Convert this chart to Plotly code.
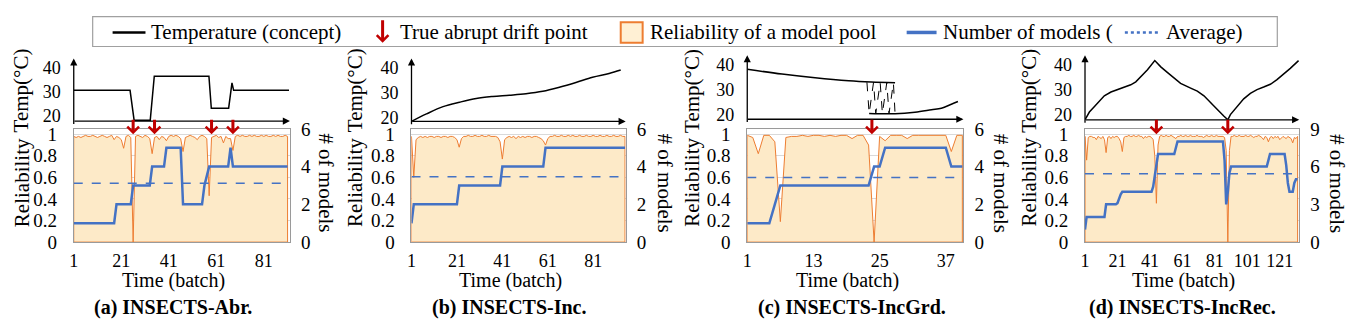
import plotly.graph_objects as go

W, H = 1357, 328

# ---------------- data ----------------
captions = ["(a) INSECTS-Abr.", "(b) INSECTS-Inc.", "(c) INSECTS-IncGrd.", "(d) INSECTS-IncRec."]

# (a) abrupt
temp_a_x = [1, 24.7, 26.4, 33.2, 34.9, 57.9, 58.9, 66.2, 67.6, 68.3, 91.6]
temp_a_y = [30.5, 30.5, 18, 18, 36.4, 36.4, 23, 23, 33.6, 30.5, 30.5]
drift_a = [26, 35, 59, 68]
rel_a = [0.98, 0.97, 0.98, 0.97, 0.98, 0.99, 0.98, 0.98, 0.99, 0.98,
         0.97, 0.98, 0.99, 0.98, 0.97, 0.98, 0.99, 0.95, 0.98, 0.97,
         0.95, 0.87, 0.98, 0.99, 0.97, 0.0, 0.98, 0.99, 0.98, 0.97,
         0.99, 0.98, 0.96, 0.82, 0.97, 0.98, 0.95, 0.98, 0.97, 0.94,
         0.98, 0.99, 0.98, 0.99, 0.98, 0.96, 0.84, 0.97, 0.98, 0.99,
         0.98, 0.97, 0.95, 0.98, 0.99, 0.98, 0.96, 0.43, 0.97, 0.98,
         0.99, 0.97, 0.98, 0.92, 0.98, 0.96, 0.96, 0.85, 0.98, 0.99,
         0.98, 0.99, 0.98, 0.98, 0.99, 0.98, 0.99, 0.98, 0.98, 0.99,
         0.98, 0.99, 0.98, 0.98, 0.99, 0.98, 0.99, 0.98, 0.98, 0.99,
         0.98]
models_a = [1, 1, 1, 1, 1, 1, 1, 1, 1, 1,
            1, 1, 1, 1, 1, 1, 1, 1, 2, 2,
            2, 2, 2, 2, 2, 3, 3, 3, 3, 3,
            3, 3, 3, 4, 4, 4, 4, 4, 4, 5,
            5, 5, 5, 5, 5, 5, 2, 2, 2, 2,
            2, 2, 2, 2, 2, 3, 3.5, 4, 4, 4,
            4, 4, 4, 4, 4, 4, 5, 4, 4, 4,
            4, 4, 4, 4, 4, 4, 4, 4, 4, 4,
            4, 4, 4, 4, 4, 4, 4, 4, 4, 4,
            4]

# (b) incremental
temp_b_x = [1, 7.6, 14.9, 22.2, 29.5, 36.8, 44.1, 51.4, 58.8, 66.1, 73.4, 80.7, 88.0, 93.1]
temp_b_y = [18.5, 21.5, 24.4, 26.2, 27.7, 28.5, 29.0, 29.6, 30.6, 32.2, 34.1, 36.2, 37.7, 39.1]
drift_b = []
rel_b = [0.98, 0.6, 0.95, 0.97, 0.98, 0.97, 0.98, 0.97, 0.98, 0.98,
         0.97, 0.98, 0.98, 0.97, 0.98, 0.98, 0.97, 0.98, 0.98, 0.97,
         0.95, 0.88, 0.96, 0.98, 0.98, 0.99, 0.98, 0.98, 0.99, 0.98,
         0.98, 0.99, 0.98, 0.98, 0.99, 0.98, 0.98, 0.98, 0.97, 0.93,
         0.77, 0.95, 0.97, 0.98, 0.97, 0.98, 0.96, 0.98, 0.97, 0.98,
         0.97, 0.98, 0.98, 0.97, 0.98, 0.98, 0.97, 0.96, 0.94, 0.9,
         0.96, 0.98, 0.98, 0.99, 0.98, 0.98, 0.99, 0.98, 0.98, 0.99,
         0.98, 0.99, 0.98, 0.98, 0.99, 0.98, 0.98, 0.99, 0.98, 0.98,
         0.99, 0.98, 0.98, 0.99, 0.98, 0.98, 0.99, 0.98, 0.98, 0.99,
         0.98, 0.98, 0.99, 0.98, 0.98]
models_b = [1, 2, 2, 2, 2, 2, 2, 2, 2, 2,
            2, 2, 2, 2, 2, 2, 2, 2, 2, 2,
            2, 3, 3, 3, 3, 3, 3, 3, 3, 3,
            3, 3, 3, 3, 3, 3, 3, 3, 3, 3,
            4, 4, 4, 4, 4, 4, 4, 4, 4, 4,
            4, 4, 4, 4, 4, 4, 4, 4, 4, 5,
            5, 5, 5, 5, 5, 5, 5, 5, 5, 5,
            5, 5, 5, 5, 5, 5, 5, 5, 5, 5,
            5, 5, 5, 5, 5, 5, 5, 5, 5, 5,
            5, 5, 5, 5, 5]

# (c) incremental-gradual
temp_c_old_x = [1, 7.3, 13.3, 19.4, 23.5, 27.8]
temp_c_old_y = [38.1, 36.2, 34.7, 33.5, 33.0, 32.7]
temp_c_new_x = [23.1, 27.8, 31.4, 34.4, 36.2, 38.0, 39.2]
temp_c_new_y = [20.4, 20.3, 20.9, 21.9, 22.5, 24.1, 25.2]
switch_c_x = [22.7, 23.1, 23.9, 24.3, 25.1, 25.5, 26.3, 26.7, 27.5, 27.8]
switch_c_y = [32.9, 20.4, 32.9, 20.4, 32.8, 20.4, 32.8, 20.3, 32.7, 20.3]
drift_c = [23.6]
rel_c = [0.99, 0.97, 0.82, 0.99, 0.99, 0.93, 0.19, 0.97, 0.98, 0.98,
         0.99, 0.98, 0.99, 0.99, 0.98, 0.99, 0.98, 0.99, 0.99, 0.96,
         0.99, 0.99, 0.9, 0.0, 0.98, 0.94, 0.99, 0.99, 0.99, 0.96,
         0.99, 0.99, 0.99, 0.99, 0.99, 0.99, 0.99, 0.84, 0.99, 0.99]
models_c = [1, 1, 1, 1, 1, 2, 3, 3, 3, 3,
            3, 3, 3, 3, 3, 3, 3, 3, 3, 3,
            3, 3, 3, 4, 4, 5, 5, 5, 5, 5,
            5, 5, 5, 5, 5, 5, 5, 4, 4, 4]

# (d) incremental-reoccurring
temp_d_x = [1, 3.7, 6.7, 9.8, 12.9, 17, 23.1, 29.2, 32.3, 35.4, 39.5, 44,
            47.7, 51.7, 57.9, 59.9, 66.1, 70.2, 74.3, 78.3, 82.4, 86.5, 89,
            90.6, 94.7, 98.8, 102.9, 107, 111.1, 115.2, 119.3, 123.4, 127.5, 132.6]
temp_d_y = [17.9, 21.0, 23.1, 25.4, 27.5, 29.0, 30.6, 31.9, 33.1, 35.0, 37.9, 41.6,
            39.1, 36.9, 33.5, 32.5, 30.6, 29.4, 27.5, 25.0, 22.1, 19.4, 17.9,
            20.0, 23.1, 26.3, 28.5, 30.0, 31.0, 32.1, 34.0, 36.2, 38.5, 41.6]
drift_d = [45, 89]
rel_d = [0.98, 0.76, 0.97, 0.98, 0.98, 0.97, 0.97, 0.95, 0.98, 0.97,
         0.96, 0.98, 0.95, 0.83, 0.97, 0.98, 0.96, 0.98, 0.97, 0.98,
         0.98, 0.96, 0.93, 0.84, 0.97, 0.98, 0.98, 0.99, 0.98, 0.98,
         0.99, 0.98, 0.98, 0.99, 0.98, 0.98, 0.96, 0.98, 0.97, 0.98,
         0.98, 0.97, 0.95, 0.8, 0.36, 0.9, 0.98, 0.99, 0.98, 0.98,
         0.99, 0.98, 0.98, 0.99, 0.98, 0.97, 0.96, 0.98, 0.98, 0.99,
         0.98, 0.98, 0.99, 0.98, 0.98, 0.99, 0.98, 0.98, 0.98, 0.99,
         0.98, 0.98, 0.98, 0.97, 0.98, 0.99, 0.98, 0.98, 0.99, 0.98,
         0.98, 0.99, 0.98, 0.98, 0.98, 0.98, 0.97, 0.85, 0.0, 0.85,
         0.98, 0.98, 0.99, 0.98, 0.98, 0.99, 0.98, 0.98, 0.98, 0.99,
         0.98, 0.98, 0.99, 0.98, 0.97, 0.98, 0.98, 0.99, 0.98, 0.97,
         0.95, 0.98, 0.97, 0.93, 0.97, 0.98, 0.96, 0.98, 0.97, 0.98,
         0.95, 0.97, 0.98, 0.97, 0.96, 0.98, 0.97, 0.96, 0.92, 0.97,
         0.96, 0.98]
models_d = [1, 2, 2, 2, 2, 2, 2, 2, 2, 2,
            2, 2, 2, 3, 3, 3, 3, 3, 3, 3,
            3.1, 3.5, 3.8, 4, 4, 4, 4, 4, 4, 4,
            4, 4, 4, 4, 4, 4, 4, 4, 4, 4,
            4, 4, 4.4, 5.4, 6.4, 7, 7, 7, 7, 7,
            7, 7, 7, 7, 7, 7, 7.5, 8, 8, 8,
            8, 8, 8, 8, 8, 8, 8, 8, 8, 8,
            8, 8, 8, 8, 8, 8, 8, 8, 8, 8,
            8, 8, 8, 8, 8, 8, 6.5, 3, 4, 5.5,
            6, 6, 6, 6, 6, 6, 6, 6, 6, 6,
            6, 6, 6, 6, 6, 6, 6, 6, 6, 6,
            6, 6, 6, 6.5, 7, 7, 7, 7, 7, 7,
            7, 7, 7, 7, 6.1, 4.7, 4, 4, 4, 4.7,
            5, 5]

avg_models = [3.12, 3.46, 3.42, 5.43]

rel_all = [rel_a, rel_b, rel_c, rel_d]
models_all = [models_a, models_b, models_c, models_d]
drift_all = [drift_a, drift_b, drift_c, drift_d]
xticks_all = [[1, 21, 41, 61, 81], [1, 21, 41, 61, 81], [1, 13, 25, 37], [1, 21, 41, 61, 81, 101, 121]]
right_ticks_all = [[0, 2, 4, 6], [0, 2, 4, 6], [0, 2, 4, 6], [0, 3, 6, 9]]
temp_ticks = [20, 30, 40]
rel_ticks = [0, 0.2, 0.4, 0.6, 0.8, 1]
rel_ticktext = ["0", "0.2", "0.4", "0.6", "0.8", "1"]

# ---------------- style / geometry ----------------
SERIF = "Liberation Serif"
ORANGE = "rgb(237,125,49)"
FILL = "rgb(253,234,200)"
BLUE = "rgb(68,114,196)"
RED = "#C00000"
FRAME = "#9a9a9a"

geo = [
    dict(x0=69, x1=286, tt=51.7, tb=118.7, trng=[17.6, 43.9], xr=[1, 92], lt=17, rtx=322, capx=169, timex=169.5),
    dict(x0=408, x1=623, tt=51.7, tb=119.0, trng=[18.5, 43.75], xr=[1, 95.3], lt=352, rtx=662, capx=506, timex=507),
    dict(x0=745, x1=962, tt=48.3, tb=116.7, trng=[18.1, 43.75], xr=[1, 40.2], lt=690, rtx=1000, capx=850, timex=846),
    dict(x0=1084, x1=1299, tt=48.3, tb=117.3, trng=[17.9, 43.75], xr=[1, 133], lt=1028, rtx=1337, capx=1182, timex=1182.5),
]
REL_TOP, REL_BOT = 127, 248


def fx(p):
    return p / W


def fy(p):
    return 1 - p / H


def key(prefix, n):
    return prefix + ("" if n == 1 else str(n))


def text_ann(x, y, text, size=21, angle=0, xanchor="center"):
    return dict(x=fx(x), y=fy(y), xref="paper", yref="paper", text=text, textangle=angle,
                xanchor=xanchor, yanchor="middle", showarrow=False, borderpad=0,
                font=dict(family=SERIF, size=size, color="black"))


fig = go.Figure()
layout = {}
annotations = []
shapes = []
tickfont = dict(family=SERIF, size=19, color="black")
xtickfont = dict(family=SERIF, size=18, color="black")
ttickfont = dict(family=SERIF, size=18, color="black")

temp_traces = [
    [(temp_a_x, temp_a_y, "linear", None)],
    [(temp_b_x, temp_b_y, "spline", None)],
    [(temp_c_old_x, temp_c_old_y, "spline", None), (temp_c_new_x, temp_c_new_y, "spline", None),
     (switch_c_x, switch_c_y, "linear", "dash")],
    [(temp_d_x, temp_d_y, "linear", None)],
]

for i, g in enumerate(geo):
    xt, xr_ = 2 * i + 1, 2 * i + 2
    yt, yl, yr = 3 * i + 1, 3 * i + 2, 3 * i + 3
    dom_x = [fx(g["x0"]), fx(g["x1"])]

    # temperature subplot axes
    layout[key("xaxis", xt)] = dict(domain=dom_x, anchor=key("y", yt), range=g["xr"], visible=False)
    layout[key("yaxis", yt)] = dict(domain=[fy(g["tb"]), fy(g["tt"])], anchor=key("x", xt), range=g["trng"],
                                    tickvals=temp_ticks, showgrid=False, zeroline=False, showline=False,
                                    ticks="", tickfont=ttickfont, ticklabelstandoff=12)
    # reliability subplot axes
    layout[key("xaxis", xr_)] = dict(domain=dom_x, anchor=key("y", yl), range=g["xr"], tickvals=xticks_all[i],
                                     showline=True, mirror=True, linecolor=FRAME, linewidth=1, ticks="",
                                     showgrid=False, zeroline=False, tickfont=xtickfont, ticklabelstandoff=2)
    layout[key("yaxis", yl)] = dict(domain=[fy(REL_BOT), fy(REL_TOP)], anchor=key("x", xr_), range=[0, 1.05],
                                    tickvals=rel_ticks, ticktext=rel_ticktext, showgrid=True, gridcolor="#d9d9d9",
                                    showline=True, mirror=True, linecolor=FRAME, linewidth=1, zeroline=False,
                                    ticks="", tickfont=tickfont, ticklabelstandoff=12)
    layout[key("yaxis", yr)] = dict(overlaying=key("y", yl), side="right", anchor=key("x", xr_),
                                    range=[0, right_ticks_all[i][-1]], tickvals=right_ticks_all[i],
                                    showgrid=False, zeroline=False, showline=False, ticks="",
                                    tickfont=tickfont, ticklabelstandoff=10)

    # temperature lines
    for tx, ty, shp, dash in temp_traces[i]:
        fig.add_trace(go.Scatter(x=tx, y=ty, mode="lines", xaxis=key("x", xt), yaxis=key("y", yt),
                                 line=dict(color="black", width=1.5 if dash is None else 1, shape=shp,
                                           dash=dash or "solid"),
                                 showlegend=False, hoverinfo="skip"))

    # reliability area (closed polygon so outline wraps baseline)
    rel = rel_all[i]
    batches = list(range(1, len(rel) + 1))
    px_ = [batches[0]] + batches + [batches[-1], batches[0]]
    py_ = [0] + rel + [0, 0]
    fig.add_trace(go.Scatter(x=px_, y=py_, mode="lines", fill="toself", fillcolor=FILL,
                             line=dict(color=ORANGE, width=1), xaxis=key("x", xr_), yaxis=key("y", yl),
                             showlegend=False, hoverinfo="skip"))
    # number of models
    mods = models_all[i]
    mb = list(range(1, len(mods) + 1))
    fig.add_trace(go.Scatter(x=mb, y=mods, mode="lines", line=dict(color=BLUE, width=2.5),
                             xaxis=key("x", xr_), yaxis=key("y", yr), showlegend=False, hoverinfo="skip"))
    fig.add_trace(go.Scatter(x=[mb[0], mb[-1]], y=[avg_models[i], avg_models[i]], mode="lines",
                             line=dict(color=BLUE, width=1.5, dash="dash"),
                             xaxis=key("x", xr_), yaxis=key("y", yr), showlegend=False, hoverinfo="skip"))

    # temperature axis arrows
    annotations.append(dict(x=0, y=1, xref=key("x", xt) + " domain", yref=key("y", yt) + " domain",
                            ax=0, ay=g["tb"] - g["tt"], showarrow=True, arrowhead=2, arrowsize=1.1,
                            arrowwidth=1.3, arrowcolor="black", text=""))
    annotations.append(dict(x=1, y=0, xref=key("x", xt) + " domain", yref=key("y", yt) + " domain",
                            ax=-(g["x1"] - g["x0"]), ay=0, showarrow=True, arrowhead=2, arrowsize=1.1,
                            arrowwidth=1.3, arrowcolor="black", text=""))
    # drift arrows
    for d in drift_all[i]:
        annotations.append(dict(x=d, y=1.0, xref=key("x", xr_), yref=key("y", yl), ax=0, ay=-16,
                                showarrow=True, arrowhead=4, arrowsize=0.75, arrowwidth=3,
                                arrowcolor=RED, text=""))

    # titles
    annotations.append(text_ann(g["lt"], 86, "Temp(°C)", angle=-90))
    annotations.append(text_ann(g["lt"], 184, "Reliability", angle=-90))
    annotations.append(text_ann(g["rtx"], 185, "# of models", angle=90))
    annotations.append(text_ann(g["timex"], 289, "Time (batch)", size=20))
    annotations.append(text_ann(g["capx"], 318, "<b>" + captions[i] + "</b>", size=20))

# ---------------- legend (manual) ----------------
LY = 24
shapes.append(dict(type="rect", xref="paper", yref="paper", x0=fx(88), x1=fx(1277), y0=fy(39), y1=fy(7),
                   line=dict(color="#a0a0a0", width=1.2), fillcolor="white"))
shapes.append(dict(type="line", xref="paper", yref="paper", x0=fx(108), x1=fx(141), y0=fy(LY), y1=fy(LY),
                   line=dict(color="black", width=2.5)))
annotations.append(text_ann(146, LY, "Temperature (concept)", size=21, xanchor="left"))
annotations.append(dict(x=fx(379), y=fy(35), xref="paper", yref="paper", ax=0, ay=-24, showarrow=True,
                        arrowhead=4, arrowsize=0.75, arrowwidth=3, arrowcolor=RED, text=""))
annotations.append(text_ann(395, LY, "True abrupt drift point", size=21, xanchor="left"))
shapes.append(dict(type="rect", xref="paper", yref="paper", x0=fx(618), x1=fx(640), y0=fy(35), y1=fy(13),
                   line=dict(color=ORANGE, width=2), fillcolor="rgb(255,240,212)"))
annotations.append(text_ann(646, LY, "Reliability of a model pool", size=21, xanchor="left"))
shapes.append(dict(type="line", xref="paper", yref="paper", x0=fx(905), x1=fx(935), y0=fy(LY), y1=fy(LY),
                   line=dict(color=BLUE, width=3.5)))
annotations.append(text_ann(940, LY, "Number of models (", size=21, xanchor="left"))
shapes.append(dict(type="line", xref="paper", yref="paper", x0=fx(1124), x1=fx(1160), y0=fy(LY), y1=fy(LY),
                   line=dict(color=BLUE, width=2.5, dash="dot")))
annotations.append(text_ann(1164, LY, "Average)", size=21, xanchor="left"))

fig.update_layout(**layout)
fig.update_layout(width=W, height=H, margin=dict(l=0, r=0, t=0, b=0), showlegend=False,
                  plot_bgcolor="white", paper_bgcolor="white", annotations=annotations, shapes=shapes,
                  font=dict(family=SERIF, color="black"))
fig.write_html("out.html")
